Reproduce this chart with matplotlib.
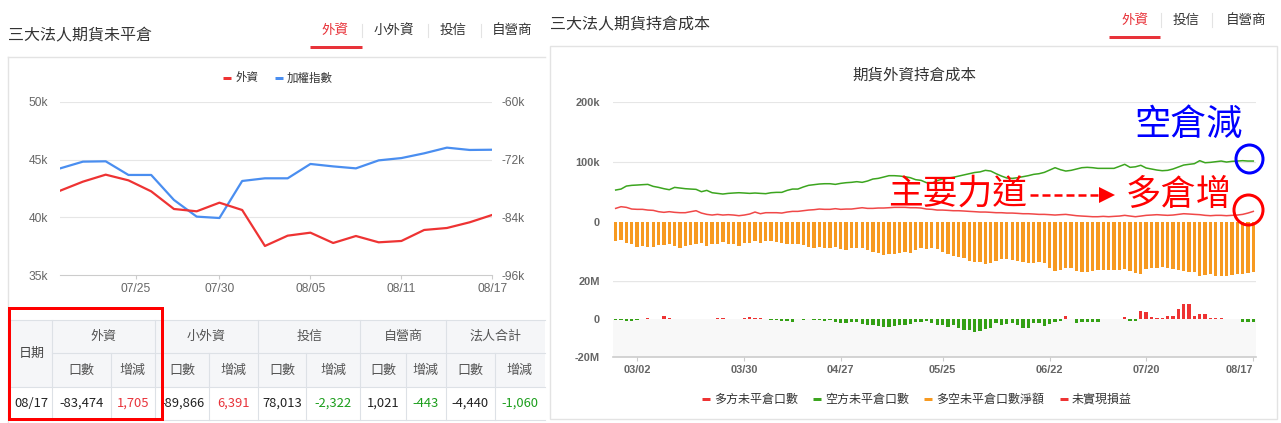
import numpy as np
import pandas as pd
import matplotlib
matplotlib.use('Agg')
import matplotlib.pyplot as plt
from matplotlib.patches import Rectangle, Ellipse, Polygon

plt.rcParams['font.family'] = ['Noto Sans CJK TC', 'DejaVu Sans']

W, H = 1281, 423
NUM_FONT = 'Liberation Sans'

# ---------------- left chart: 外資 vs 加權指數 ----------------
left_dates = ['07/21', '07/22', '07/23', '07/24', '07/27', '07/28', '07/29', '07/30',
              '07/31', '08/03', '08/04', '08/05', '08/06', '08/07', '08/10', '08/11',
              '08/12', '08/13', '08/14', '08/17']
left_ticks = ['07/25', '07/30', '08/05', '08/11', '08/17']
taiex_k = [44.24, 44.82, 44.85, 43.67, 43.67, 41.51, 40.07, 39.95, 43.15, 43.38,
           43.38, 44.62, 44.41, 44.24, 44.93, 45.13, 45.54, 46.03, 45.83, 45.85]
foreign_net_k = [-78.45, -76.58, -75.13, -76.31, -78.59, -82.25, -82.73, -80.94, -82.46, -89.92,
                 -87.78, -87.16, -89.30, -87.85, -89.16, -88.88, -86.60, -86.19, -85.01, -83.47]

# ---------------- table ----------------
table_groups = ['外資', '小外資', '投信', '自營商', '法人合計']
table_subs = ['口數', '增減']
table_date = '08/17'
table_oi = [-83474, -89866, 78013, 1021, -4440]
table_chg = [1705, 6391, -2322, -443, -1060]

# ---------------- right chart: 期貨外資持倉成本 ----------------
holidays = ['2020-02-28', '2020-04-02', '2020-04-03', '2020-05-01', '2020-06-25', '2020-06-26']
trade_days = pd.bdate_range('2020-02-24', '2020-08-17')
trade_days = trade_days[~trade_days.isin(pd.to_datetime(holidays))]
right_ticks = ['03/02', '03/30', '04/27', '05/25', '06/22', '07/20', '08/17']

long_oi_k = [22.2, 25.0, 23.9, 21.1, 20.6, 20.6, 19.4, 18.9, 16.7, 15.6,
             16.7, 15.6, 15.0, 15.0, 16.7, 18.3, 14.4, 12.2, 11.1, 12.2,
             11.1, 11.7, 11.1, 10.0, 11.1, 12.8, 16.1, 13.3, 15.0, 15.0,
             15.0, 14.4, 16.1, 17.2, 17.2, 18.3, 19.4, 20.0, 21.1, 20.6,
             20.6, 21.7, 20.6, 21.1, 21.1, 22.2, 23.3, 22.2, 22.2, 22.8,
             22.8, 23.3, 23.9, 23.9, 23.9, 23.3, 23.3, 22.8, 21.1, 20.6,
             19.4, 19.4, 18.9, 18.3, 18.3, 17.8, 17.2, 16.7, 16.1, 16.1,
             15.6, 15.0, 15.0, 14.4, 14.4, 13.9, 13.3, 13.3, 12.8, 12.2,
             12.2, 11.7, 11.1, 11.7, 12.2, 11.1, 10.0, 9.4, 8.9, 8.3,
             8.3, 8.9, 8.3, 8.9, 9.4, 10.6, 9.4, 8.3, 9.4, 10.6,
             11.1, 11.7, 11.1, 10.6, 11.1, 12.2, 13.3, 12.8, 12.2, 11.7,
             10.6, 10.0, 10.6, 10.6, 10.0, 10.6, 11.1, 12.2, 14.4, 17.2]
short_oi_k = [52.8, 54.4, 59.4, 60.6, 61.1, 61.7, 62.2, 58.9, 57.2, 55.0,
              53.3, 57.2, 56.1, 55.0, 54.4, 53.9, 50.0, 52.2, 48.3, 47.2,
              46.1, 47.2, 47.8, 48.3, 47.8, 47.2, 47.8, 47.2, 46.7, 48.3,
              48.9, 48.9, 52.2, 54.4, 54.4, 57.8, 60.6, 61.7, 62.8, 63.3,
              63.3, 62.2, 63.9, 65.0, 65.6, 66.7, 65.6, 67.8, 71.1, 72.2,
              74.4, 76.7, 76.7, 76.1, 75.0, 73.3, 70.0, 68.9, 65.0, 64.0,
              68.5, 71.0, 72.5, 74.0, 76.0, 78.0, 80.0, 82.0, 83.0, 85.6,
              84.4, 80.0, 76.1, 72.8, 72.2, 73.3, 75.0, 76.7, 78.9, 80.0,
              82.2, 86.1, 90.0, 86.7, 84.4, 85.6, 87.8, 90.0, 90.6, 90.0,
              88.9, 88.9, 88.9, 88.9, 92.2, 95.6, 90.6, 91.5, 94.0, 89.5,
              87.8, 86.1, 85.0, 85.6, 87.8, 91.1, 94.4, 95.6, 96.7, 101.7,
              98.3, 98.9, 100.0, 101.1, 99.4, 100.6, 101.1, 101.7, 101.1, 101.1]
net_oi_k = [-31.6, -29.9, -34.9, -36.6, -41.6, -40.5, -42.2, -42.2, -38.8, -38.8,
            -36.6, -40.5, -43.3, -39.9, -38.8, -37.2, -34.9, -39.9, -36.6, -37.7,
            -33.8, -36.6, -37.2, -39.9, -36.1, -36.1, -31.6, -34.9, -31.6, -32.2,
            -33.3, -34.9, -37.2, -37.2, -37.7, -38.8, -42.2, -43.8, -42.2, -43.8,
            -43.8, -42.2, -46.1, -46.6, -43.8, -43.8, -43.3, -47.7, -51.1, -51.6,
            -55.0, -54.4, -53.3, -52.2, -50.5, -51.6, -46.6, -44.4, -44.9, -44.4,
            -46.1, -49.9, -54.4, -56.6, -58.3, -61.1, -64.9, -66.6, -66.6, -69.9,
            -68.3, -64.9, -62.2, -61.6, -63.3, -64.9, -66.6, -69.4, -69.4, -67.7,
            -69.4, -76.6, -82.2, -81.1, -76.6, -76.6, -82.2, -84.4, -84.4, -81.6,
            -79.9, -79.9, -80.5, -80.5, -81.1, -79.4, -82.2, -86.1, -86.6, -78.3,
            -77.7, -76.6, -75.5, -76.6, -78.3, -81.1, -82.2, -83.3, -84.4, -89.9,
            -88.8, -87.7, -89.9, -89.9, -90.5, -88.8, -87.7, -87.2, -84.9, -83.8]
pnl_m = [-0.3, -0.5, -0.8, -0.8, -0.3, 0.0, 0.6, 0.3, 0.3, 1.8,
         0.8, 0.0, 0.3, 0.3, 0.3, 0.3, 0.0, 0.3, 0.3, 0.5,
         0.8, 0.3, 0.3, 0.3, 0.5, 1.2, 0.5, 0.5, 0.3, -0.3,
         -0.3, -0.7, -0.7, -1.2, 0.0, -0.3, 0.0, -0.3, -0.5, -0.7,
         -0.5, -1.4, -1.8, -1.8, -1.6, -1.4, -2.5, -2.8, -2.8, -3.7,
         -4.0, -4.0, -3.3, -3.0, -3.0, -2.3, -1.6, -1.4, -1.0, -2.1,
         -3.0, -3.0, -4.0, -3.0, -4.6, -5.4, -5.6, -6.7, -6.0, -4.9,
         -4.6, -1.8, -3.0, -2.6, -1.8, -3.0, -4.6, -4.6, -1.8, -1.8,
         -3.5, -2.6, -1.4, -1.1, 1.9, 0.4, -1.9, -1.4, -1.4, -1.4,
         -1.4, 0.0, 0.4, 0.0, 0.4, 1.4, -0.7, -0.7, 4.6, 4.0,
         1.4, 0.5, 0.5, 1.9, 1.9, 5.6, 7.9, 7.9, 1.9, 3.0,
         2.6, 0.5, 0.9, 0.9, 0.0, 0.0, 0.0, -1.4, -1.4, -1.4]

RED = '#ee3333'
TAB_RED = '#e8333a'
BLUE = '#4a8ef0'
GREEN = '#3ca51f'
ORANGE = '#f79a21'
GRID = '#e6e6e6'
AXIS = '#cccccc'
LABEL = '#666666'


def pt(px):
    return px * 72 / 100


def tick_pos(days, labels):
    t = pd.to_datetime(['2020/' + s for s in labels])
    return np.interp(t.asi8, days.asi8, np.arange(len(days)))


fig = plt.figure(figsize=(W / 100, H / 100), dpi=100)


def px_axes(x0, y0, x1, y1, **kw):
    return fig.add_axes([x0 / W, 1 - y1 / H, (x1 - x0) / W, (y1 - y0) / H], **kw)


bg = px_axes(0, 0, W, H)
bg.set_xlim(0, W)
bg.set_ylim(H, 0)
bg.axis('off')

# ======== left panel frame ========
bg.text(8, 36, '三大法人期貨未平倉', fontsize=pt(16), color='#333', va='center')
for name, cx in zip(['外資', '小外資', '投信', '自營商'], [334.5, 394, 453.5, 512.5]):
    bg.text(cx, 30, name, fontsize=pt(13.5), ha='center', va='center',
            color=TAB_RED if name == '外資' else '#333')
for sx in [362, 428, 481]:
    bg.plot([sx, sx], [24, 37], color='#e3e3e3', lw=0.8)
bg.plot([310, 362], [47.5, 47.5], color=TAB_RED, lw=pt(3), solid_capstyle='butt')
bg.plot([7.7, 545], [57, 57], color='#e3e3e3', lw=1)
bg.plot([7.7, 7.7], [57, 423], color='#e3e3e3', lw=1)

# legend
bg.plot([223, 231], [78, 78], color=RED, lw=pt(3), solid_capstyle='butt')
bg.text(236, 78, '外資', fontsize=pt(11.5), color='#333', va='center')
bg.plot([275, 283], [78, 78], color=BLUE, lw=pt(3), solid_capstyle='butt')
bg.text(287, 78, '加權指數', fontsize=pt(11.5), color='#333', va='center')

# ======== left chart ========
axL = px_axes(60.2, 101.7, 492.4, 275.3)
xl = np.arange(len(left_dates))
axL.plot(xl, taiex_k, color=BLUE, lw=1.6)
axL.set_xlim(0, len(left_dates) - 1)
axL.set_ylim(35, 50)
axL.set_yticks([35, 40, 45, 50])
axL.set_yticklabels([f'{v}k' for v in [35, 40, 45, 50]], fontfamily=NUM_FONT,
                    fontsize=pt(12), color=LABEL)
for v in [40, 45, 50]:
    axL.axhline(v, color=GRID, lw=0.8, zorder=0)
axL.set_xticks(tick_pos(pd.to_datetime(['2020/' + d for d in left_dates]), left_ticks))
axL.set_xticklabels(left_ticks, fontfamily=NUM_FONT, fontsize=pt(12), color=LABEL)
axL.tick_params(axis='x', length=pt(4), color=AXIS, pad=pt(3.5))
axL.tick_params(axis='y', length=0, pad=pt(12))
for s in ['top', 'left', 'right']:
    axL.spines[s].set_visible(False)
axL.spines['bottom'].set_color(AXIS)
axL.patch.set_alpha(0)

axR = axL.twinx()
axR.plot(xl, foreign_net_k, color=RED, lw=1.6)
axR.set_ylim(-96, -60)
axR.set_yticks([-96, -84, -72, -60])
axR.set_yticklabels([f'{v}k' for v in [-96, -84, -72, -60]], fontfamily=NUM_FONT,
                    fontsize=pt(12), color=LABEL)
axR.tick_params(axis='y', length=0, pad=pt(9))
for s in axR.spines.values():
    s.set_visible(False)

# ======== table ========
col_x = [10.4, 52.2, 110.7, 155, 209, 257.7, 306.4, 360.4, 405.7, 445.7, 494.5, 545]
row_y = [320, 353, 387, 420]
TL = '#dde1e6'
bg.add_patch(Rectangle((col_x[0], row_y[0]), col_x[-1] - col_x[0], row_y[2] - row_y[0],
                       facecolor='#f5f6f8', lw=0))
bg.plot([col_x[0], col_x[-1]], [row_y[0]] * 2, color=TL, lw=0.8)
bg.plot([col_x[1], col_x[-1]], [row_y[1]] * 2, color=TL, lw=0.8)
bg.plot([col_x[0], col_x[-1]], [row_y[2]] * 2, color=TL, lw=0.8)
bg.plot([col_x[0], col_x[-1]], [row_y[3]] * 2, color=TL, lw=0.8)
for k in [0, 1, 3, 5, 7, 9]:
    bg.plot([col_x[k]] * 2, [row_y[0], row_y[3]], color=TL, lw=0.8)
for k in [2, 4, 6, 8, 10]:
    bg.plot([col_x[k]] * 2, [row_y[1], row_y[3]], color=TL, lw=0.8)

bg.text((col_x[0] + col_x[1]) / 2, (row_y[0] + row_y[2]) / 2, '日期',
        fontsize=pt(13), ha='center', va='center', color='#444')
for g, name in enumerate(table_groups):
    a, b, c = col_x[1 + 2 * g], col_x[2 + 2 * g], col_x[3 + 2 * g]
    bg.text((a + c) / 2, (row_y[0] + row_y[1]) / 2, name, fontsize=pt(13),
            ha='center', va='center', color='#555')
    for sub, (u, v) in zip(table_subs, [(a, b), (b, c)]):
        bg.text((u + v) / 2, (row_y[1] + row_y[2]) / 2, sub, fontsize=pt(13),
                ha='center', va='center', color='#555')
    ym = (row_y[2] + row_y[3]) / 2
    bg.text((a + b) / 2, ym, f'{table_oi[g]:,}', fontsize=pt(13),
            ha='center', va='center', color='#222')
    chg = table_chg[g]
    bg.text((b + c) / 2, ym, f'{chg:,}', fontsize=pt(13), ha='center', va='center',
            color=TAB_RED if chg > 0 else '#1c9e1c')
bg.text((col_x[0] + col_x[1]) / 2, (row_y[2] + row_y[3]) / 2, table_date,
        fontsize=pt(13), ha='center', va='center', color='#222')

# ======== right panel frame ========
bg.text(550, 25, '三大法人期貨持倉成本', fontsize=pt(16), color='#333', va='center')
for name, cx in zip(['外資', '投信', '自營商'], [1135, 1186.5, 1246]):
    bg.text(cx, 20, name, fontsize=pt(13.5), ha='center', va='center',
            color=TAB_RED if name == '外資' else '#333')
for sx in [1161, 1212]:
    bg.plot([sx, sx], [13, 27], color='#e3e3e3', lw=0.8)
bg.plot([1109, 1160], [37, 37], color=TAB_RED, lw=pt(3), solid_capstyle='butt')
bg.add_patch(Rectangle((550, 46), 727, 373, fill=False, ec='#e3e3e3', lw=1))
bg.text(914, 75, '期貨外資持倉成本', fontsize=pt(15.5), ha='center', va='center', color='#333')

legend_items = [('多方未平倉口數', 702, RED), ('空方未平倉口數', 813, GREEN),
                ('多空未平倉口數淨額', 924, ORANGE), ('未實現損益', 1060, RED)]
for name, x0, c in legend_items:
    bg.plot([x0, x0 + 8], [399, 399], color=c, lw=pt(3), solid_capstyle='butt')
    bg.text(x0 + 12, 399, name, fontsize=pt(12), color='#333', va='center')

# ======== right chart (top pane) ========
xr = np.arange(len(trade_days))
ax1 = px_axes(613, 101.7, 1256, 281.7)
ax1.bar(xr, net_oi_k, width=0.62, color=ORANGE, zorder=2)
ax1.plot(xr, short_oi_k, color=GREEN, lw=1.1, zorder=3)
ax1.plot(xr, long_oi_k, color='#f04848', lw=1.1, zorder=3)
ax1.set_xlim(-0.5, len(xr) - 0.5)
ax1.set_ylim(-100, 200)
for v in [100, 200]:
    ax1.axhline(v, color=GRID, lw=0.8, zorder=0)
ax1.set_yticks([0, 100, 200])
ax1.set_yticklabels(['0', '100k', '200k'], fontfamily=NUM_FONT, fontsize=pt(11),
                    color=LABEL, fontweight='bold')
ax1.tick_params(axis='y', length=0, pad=pt(13))
ax1.set_xticks([])
for s in ax1.spines.values():
    s.set_visible(False)
ax1.patch.set_alpha(0)

# ======== right chart (P&L pane) ========
ax2 = px_axes(613, 281.3, 1256, 357.3)
ax2.axhspan(-20, 0, color='#f8f8f8', lw=0, zorder=0)
ax2.axhline(20, color=GRID, lw=1, zorder=1)
ax2.bar(xr, pnl_m, width=0.62, zorder=2,
        color=[RED if v > 0 else '#33a014' for v in pnl_m])
ax2.set_xlim(-0.5, len(xr) - 0.5)
ax2.set_ylim(-20, 20)
ax2.set_yticks([-20, 0, 20])
ax2.set_yticklabels(['-20M', '0', '20M'], fontfamily=NUM_FONT, fontsize=pt(11),
                    color=LABEL, fontweight='bold')
ax2.tick_params(axis='y', length=0, pad=pt(13))
ax2.set_xticks(tick_pos(trade_days, right_ticks))
ax2.set_xticklabels(right_ticks, fontfamily=NUM_FONT, fontsize=pt(11), color=LABEL,
                    fontweight='bold')
ax2.get_xticklabels()[-1].set_ha('right')
ax2.tick_params(axis='x', length=pt(4), color=AXIS, pad=pt(3.5))
for s in ['top', 'left', 'right']:
    ax2.spines[s].set_visible(False)
ax2.spines['bottom'].set_color(AXIS)
ax2.spines['bottom'].set_linewidth(1.2)
ax2.patch.set_alpha(0)

# ======== hand-drawn annotations ========
fg = px_axes(0, 0, W, H, zorder=10)
fg.set_xlim(0, W)
fg.set_ylim(H, 0)
fg.axis('off')

# highlight box around 外資 columns
fg.add_patch(Rectangle((8.7, 308.5), 153, 111, fill=False, ec='#ff0000', lw=pt(3)))

fg.text(1188.5, 125, '空倉減', fontsize=26, color='#0000ff', ha='center', va='center')
fg.add_patch(Ellipse((1249.5, 159), 27, 28, fill=False, ec='#0000ff', lw=pt(3)))
fg.text(957.5, 194, '主要力道', fontsize=25, color='#ff0000', ha='center', va='center')
fg.plot([1030, 1100], [195, 195], color='#ff0000', lw=pt(2.5),
        linestyle=(0, (3.2, 1.6)), solid_capstyle='butt')
fg.add_patch(Polygon([(1099, 187), (1115, 195), (1099, 203)], closed=True,
                     color='#ff0000', lw=0))
fg.text(1178.5, 195, '多倉增', fontsize=25.5, color='#ff0000', ha='center', va='center')
fg.add_patch(Ellipse((1248.5, 210), 29, 30, fill=False, ec='#ff0000', lw=pt(3)))

fig.savefig('out.png', dpi=100, facecolor='white')
